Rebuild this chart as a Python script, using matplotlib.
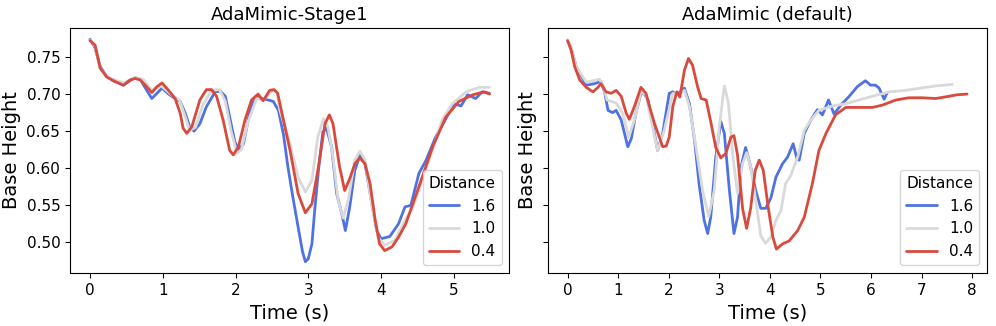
import matplotlib
matplotlib.use("Agg")
import matplotlib.pyplot as plt

# ---- Left panel: AdaMimic-Stage1 ----
L_t_16 = [0.00, 0.07, 0.14, 0.23, 0.32, 0.46, 0.55, 0.62, 0.69, 0.78, 0.85, 0.92, 0.99, 1.08, 1.17, 1.24,
          1.31, 1.37, 1.43, 1.51, 1.60, 1.72, 1.79, 1.86, 1.92, 1.99, 2.04, 2.11, 2.20, 2.28, 2.36, 2.45,
          2.52, 2.59, 2.66, 2.72, 2.79, 2.86, 2.92, 2.96, 3.00, 3.05, 3.09, 3.14, 3.20, 3.25, 3.32, 3.39,
          3.46, 3.51, 3.57, 3.64, 3.71, 3.78, 3.85, 3.94, 4.00, 4.12, 4.24, 4.33, 4.41, 4.52, 4.62, 4.75,
          4.87, 5.00, 5.10, 5.19, 5.30, 5.39, 5.49]
L_v_16 = [0.774, 0.762, 0.737, 0.724, 0.718, 0.712, 0.718, 0.722, 0.720, 0.705, 0.694, 0.701, 0.708, 0.700, 0.694, 0.690,
          0.674, 0.656, 0.650, 0.660, 0.683, 0.703, 0.704, 0.697, 0.669, 0.636, 0.625, 0.633, 0.678, 0.697, 0.694, 0.692,
          0.690, 0.678, 0.645, 0.602, 0.560, 0.521, 0.488, 0.474, 0.478, 0.498, 0.545, 0.597, 0.649, 0.654, 0.629, 0.566,
          0.539, 0.516, 0.548, 0.597, 0.618, 0.606, 0.566, 0.516, 0.505, 0.508, 0.525, 0.548, 0.550, 0.593, 0.611, 0.642,
          0.663, 0.687, 0.684, 0.699, 0.694, 0.703, 0.701]

L_t_10 = [0.00, 0.07, 0.14, 0.23, 0.32, 0.46, 0.62, 0.73, 0.85, 0.98, 1.12, 1.23, 1.30, 1.37, 1.45, 1.55,
          1.67, 1.78, 1.86, 1.94, 2.02, 2.08, 2.17, 2.29, 2.38, 2.51, 2.57, 2.61, 2.75, 2.86, 2.96, 3.05,
          3.13, 3.21, 3.27, 3.34, 3.41, 3.48, 3.55, 3.64, 3.71, 3.78, 3.87, 3.96, 4.05, 4.19, 4.33, 4.43,
          4.66, 4.84, 4.98, 5.17, 5.35, 5.49]
L_v_10 = [0.773, 0.764, 0.735, 0.724, 0.720, 0.715, 0.722, 0.720, 0.705, 0.711, 0.699, 0.692, 0.672, 0.651, 0.655, 0.685,
          0.705, 0.706, 0.690, 0.650, 0.620, 0.625, 0.662, 0.694, 0.692, 0.705, 0.703, 0.678, 0.633, 0.588, 0.568, 0.584,
          0.642, 0.667, 0.656, 0.615, 0.557, 0.533, 0.557, 0.611, 0.623, 0.611, 0.552, 0.507, 0.496, 0.503, 0.530, 0.545,
          0.611, 0.665, 0.687, 0.703, 0.709, 0.709]

L_t_04 = [0.00, 0.07, 0.14, 0.23, 0.32, 0.46, 0.55, 0.62, 0.69, 0.76, 0.85, 0.92, 0.99, 1.08, 1.17, 1.24,
          1.28, 1.33, 1.40, 1.51, 1.60, 1.67, 1.74, 1.83, 1.92, 1.97, 2.04, 2.13, 2.22, 2.31, 2.38, 2.47,
          2.53, 2.58, 2.63, 2.75, 2.86, 2.96, 3.05, 3.14, 3.23, 3.29, 3.34, 3.43, 3.50, 3.57, 3.64, 3.71,
          3.78, 3.85, 3.92, 3.98, 4.05, 4.15, 4.24, 4.34, 4.52, 4.71, 4.89, 5.07, 5.26, 5.42, 5.49]
L_v_04 = [0.772, 0.766, 0.735, 0.723, 0.718, 0.712, 0.719, 0.721, 0.719, 0.712, 0.702, 0.710, 0.715, 0.705, 0.694, 0.674,
          0.654, 0.647, 0.656, 0.692, 0.706, 0.706, 0.697, 0.665, 0.624, 0.618, 0.629, 0.665, 0.692, 0.700, 0.691, 0.705,
          0.706, 0.701, 0.678, 0.624, 0.566, 0.540, 0.552, 0.602, 0.660, 0.672, 0.660, 0.602, 0.570, 0.586, 0.606, 0.614,
          0.606, 0.579, 0.530, 0.498, 0.489, 0.494, 0.507, 0.525, 0.575, 0.629, 0.669, 0.690, 0.699, 0.703, 0.700]

# ---- Right panel: AdaMimic (default) ----
R_t_16 = [0.00, 0.07, 0.17, 0.37, 0.53, 0.66, 0.73, 0.80, 0.89, 0.96, 1.06, 1.19, 1.26, 1.35, 1.45, 1.52,
          1.59, 1.68, 1.78, 1.88, 2.01, 2.08, 2.16, 2.31, 2.41, 2.51, 2.60, 2.70, 2.77, 2.83, 2.93, 3.03,
          3.10, 3.20, 3.29, 3.36, 3.43, 3.52, 3.62, 3.72, 3.82, 3.92, 4.02, 4.12, 4.25, 4.35, 4.46, 4.54,
          4.58, 4.68, 4.81, 4.94, 5.04, 5.16, 5.27, 5.40, 5.57, 5.73, 5.89, 5.99, 6.09, 6.16, 6.26, 6.32]
R_v_16 = [0.772, 0.762, 0.737, 0.712, 0.714, 0.717, 0.703, 0.678, 0.675, 0.678, 0.665, 0.629, 0.640, 0.674, 0.701, 0.700,
          0.692, 0.660, 0.624, 0.647, 0.701, 0.703, 0.699, 0.708, 0.687, 0.638, 0.579, 0.530, 0.512, 0.534, 0.615, 0.663,
          0.647, 0.570, 0.512, 0.534, 0.602, 0.628, 0.602, 0.570, 0.546, 0.546, 0.560, 0.588, 0.606, 0.615, 0.633, 0.612,
          0.611, 0.647, 0.665, 0.679, 0.672, 0.692, 0.673, 0.685, 0.697, 0.710, 0.718, 0.712, 0.712, 0.708, 0.693, 0.702]

R_t_10 = [0.00, 0.07, 0.17, 0.37, 0.63, 0.70, 0.78, 0.96, 1.09, 1.21, 1.32, 1.45, 1.55, 1.65, 1.78, 1.91,
          2.08, 2.20, 2.31, 2.41, 2.54, 2.67, 2.79, 2.90, 3.00, 3.10, 3.18, 3.27, 3.36, 3.46, 3.54, 3.62,
          3.72, 3.82, 3.91, 4.02, 4.12, 4.22, 4.31, 4.41, 4.55, 4.68, 4.81, 4.97, 5.24, 5.50, 5.76, 6.03,
          6.36, 6.68, 6.98, 7.28, 7.61]
R_v_10 = [0.773, 0.762, 0.737, 0.716, 0.720, 0.712, 0.692, 0.688, 0.674, 0.642, 0.665, 0.703, 0.699, 0.665, 0.624, 0.651,
          0.701, 0.699, 0.705, 0.683, 0.628, 0.570, 0.535, 0.570, 0.656, 0.711, 0.688, 0.615, 0.566, 0.606, 0.621, 0.602,
          0.557, 0.509, 0.499, 0.507, 0.530, 0.543, 0.579, 0.590, 0.615, 0.651, 0.665, 0.678, 0.684, 0.687, 0.692, 0.697,
          0.703, 0.705, 0.708, 0.711, 0.713]

R_t_04 = [0.00, 0.07, 0.14, 0.24, 0.37, 0.50, 0.60, 0.66, 0.76, 0.86, 0.96, 1.06, 1.16, 1.22, 1.32, 1.45,
          1.55, 1.62, 1.72, 1.88, 1.95, 2.01, 2.08, 2.16, 2.22, 2.31, 2.39, 2.47, 2.57, 2.64, 2.74, 2.83,
          2.93, 3.03, 3.13, 3.23, 3.29, 3.36, 3.46, 3.54, 3.62, 3.71, 3.79, 3.87, 3.97, 4.06, 4.13, 4.25,
          4.38, 4.55, 4.68, 4.84, 4.97, 5.11, 5.30, 5.50, 5.76, 6.03, 6.22, 6.49, 6.75, 7.01, 7.28, 7.54,
          7.70, 7.90]
R_v_04 = [0.772, 0.759, 0.737, 0.719, 0.709, 0.703, 0.709, 0.714, 0.703, 0.701, 0.705, 0.697, 0.674, 0.666, 0.683, 0.709,
          0.701, 0.683, 0.660, 0.629, 0.630, 0.642, 0.683, 0.703, 0.696, 0.732, 0.748, 0.739, 0.710, 0.694, 0.692, 0.663,
          0.628, 0.614, 0.620, 0.642, 0.644, 0.618, 0.546, 0.519, 0.546, 0.597, 0.611, 0.597, 0.546, 0.507, 0.491, 0.498,
          0.502, 0.516, 0.534, 0.579, 0.624, 0.647, 0.672, 0.682, 0.682, 0.682, 0.685, 0.692, 0.695, 0.695, 0.694, 0.697,
          0.699, 0.700]

titles = ["AdaMimic-Stage1", "AdaMimic (default)"]
labels = ["1.6", "1.0", "0.4"]
colors = ["#4f72e3", "#d9d9d9", "#d94a3d"]

panels = [
    [(L_t_16, L_v_16), (L_t_10, L_v_10), (L_t_04, L_v_04)],
    [(R_t_16, R_v_16), (R_t_10, R_v_10), (R_t_04, R_v_04)],
]

fig, axes = plt.subplots(1, 2, figsize=(9.96, 3.26), dpi=100, sharey=True)
fig.subplots_adjust(left=0.0703, right=0.991, top=0.914, bottom=0.163, wspace=0.087)

for ax, title, series in zip(axes, titles, panels):
    for (t, v), lab, c in zip(series, labels, colors):
        ax.plot(t, v, color=c, lw=2, label=lab, solid_joinstyle="round", solid_capstyle="round")
    ax.set_title(title, fontsize=13)
    ax.set_xlabel("Time (s)", fontsize=14)
    ax.set_ylabel("Base Height", fontsize=14)
    ax.tick_params(labelsize=11)
    ax.legend(title="Distance", loc="lower right", fontsize=11, title_fontsize=11)

axes[0].set_xticks([0, 1, 2, 3, 4, 5])
axes[1].set_xticks([0, 1, 2, 3, 4, 5, 6, 7, 8])
axes[0].set_yticks([0.50, 0.55, 0.60, 0.65, 0.70, 0.75])

fig.savefig("out.png", dpi=100)
